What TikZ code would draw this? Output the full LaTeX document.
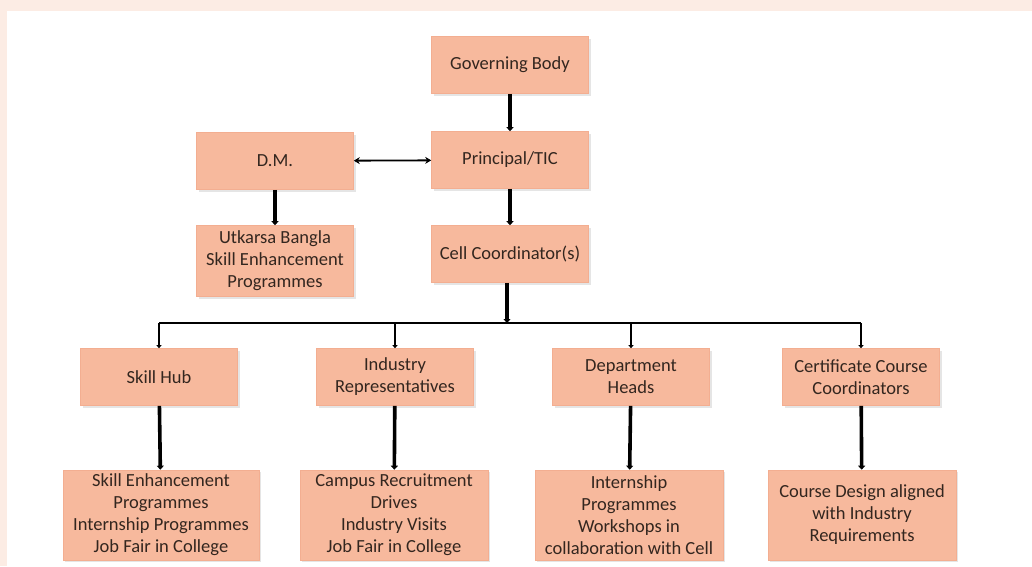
\documentclass[tikz,border=0pt]{standalone}
\usepackage{fontspec}
\setmainfont{Carlito}
\usetikzlibrary{arrows.meta,shadows}
\definecolor{boxfill}{HTML}{F7B99D}
\definecolor{boxedge}{HTML}{F3AE91}
\definecolor{bandpink}{HTML}{FCECE4}
\definecolor{inkbrown}{HTML}{33261F}
\tikzset{
  orgbox/.style={draw=boxedge, line width=0.6pt, fill=boxfill, text=inkbrown, align=center,
    minimum width=157pt, minimum height=57pt, inner sep=2pt,
    drop shadow={shadow xshift=2pt, shadow yshift=-2pt, opacity=0.2}},
  actbox/.style={orgbox, minimum width=188pt, minimum height=90pt},
  down/.style={-{Triangle[width=7pt,length=4pt]}, line width=3.6pt},
}
\begin{document}
\begin{tikzpicture}[x=1pt,y=-1pt,every node/.style={font=\fontsize{18.5}{22}\selectfont}]
\useasboundingbox (0,0) rectangle (1032,566);
\fill[white] (0,0) rectangle (1032,566);
\fill[bandpink] (0,0) rectangle (1032,11);
\fill[bandpink] (0,0) rectangle (7,566);
% top of the chart
\node[orgbox] (gb) at (510,65) {Governing Body};
\node[orgbox] (ptic) at (510,160) {Principal/TIC};
\node[orgbox] (dm) at (275,161) {D.M.};
\node[orgbox, minimum height=71pt] (ukb) at (275,261) {Utkarsa Bangla\\Skill Enhancement\\Programmes};
\node[orgbox] (cc) at (510,254) {Cell Coordinator(s)};
% second row
\node[orgbox] (hub) at (159,377) {Skill Hub};
\node[orgbox] (ind) at (395,377) {Industry\\Representatives};
\node[orgbox] (dep) at (631,377) {Department\\Heads};
\node[orgbox] (cert) at (861,377) {Certificate Course\\Coordinators};
% activities
\node[actbox, minimum width=196pt] (hubact) at (161,515) {Skill Enhancement\\Programmes\\Internship Programmes\\Job Fair in College};
\node[actbox] (indact) at (394,515) {Campus Recruitment\\Drives\\Industry Visits\\Job Fair in College};
\node[actbox] (depact) at (629,515) {Internship\\Programmes\\Workshops in\\collaboration with Cell};
\node[actbox] (certact) at (862,515) {Course Design aligned\\with Industry\\Requirements};
\coordinate (bus) at (507,323);
% connectors
\draw[down] (gb) -- (ptic);
\draw[down] (ptic) -- (cc);
\draw[down] (dm) -- (ukb);
\draw[{Stealth[width=7pt,length=6pt]}-{Stealth[width=7pt,length=6pt]}, line width=1.8pt] (dm) -- (ptic);
\draw[down] (cc.south -| bus) -- (bus);
\draw[line width=2.4pt] (hub.north |- bus) -- (cert.north |- bus);
\foreach \n in {hub,ind,dep,cert}
  \draw[-{Triangle[width=5pt,length=3pt]}, line width=2.4pt] (\n.north |- bus) -- (\n.north);
\draw[down] (hub) -- (hubact);
\draw[down] (ind) -- (indact);
\draw[down] (dep) -- (depact);
\draw[down] (cert) -- (certact);
\end{tikzpicture}
\end{document}
